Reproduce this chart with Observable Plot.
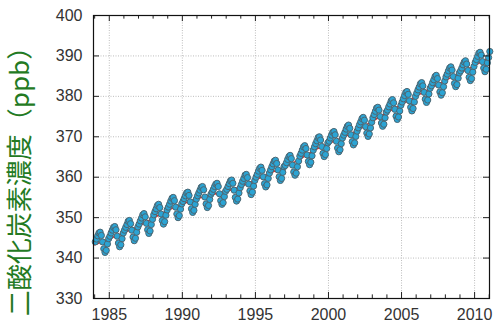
<!DOCTYPE html>
<html><head><meta charset="utf-8">
<script src="https://cdn.jsdelivr.net/npm/d3@7"></script>
<script src="https://cdn.jsdelivr.net/npm/@observablehq/plot@0.6"></script>
<style>html,body{margin:0;padding:0;background:#fff}svg{display:block}</style>
</head><body><div id="chart"></div>
<script>
// Monthly CO2 values (Jan..Dec)
const years = [1984,1985,1986,1987,1988,1989,1990,1991,1992,1993,1994,1995,1996,1997,1998,1999,2000,2001,2002,2003,2004,2005,2006,2007,2008,2009,2010];
const co2_1984 = [344.0,344.7,345.5,346.2,346.4,345.6,344.0,342.3,341.4,341.9,343.5,344.8];
const co2_1985 = [345.4,346.2,346.9,347.6,347.8,347.0,345.4,343.7,342.8,343.3,344.8,346.2];
const co2_1986 = [346.9,347.6,348.3,349.1,349.3,348.5,346.9,345.2,344.3,344.9,346.4,347.7];
const co2_1987 = [348.4,349.2,349.9,350.7,351.0,350.2,348.6,347.0,346.1,346.7,348.3,349.6];
const co2_1988 = [350.7,351.5,352.2,353.0,353.3,352.5,350.9,349.3,348.4,349.0,350.6,351.9];
const co2_1989 = [352.6,353.3,354.1,354.8,355.0,354.2,352.6,350.9,350.0,350.5,352.1,353.4];
const co2_1990 = [354.0,354.7,355.4,356.1,356.3,355.5,353.9,352.2,351.3,351.8,353.3,354.6];
const co2_1991 = [355.4,356.1,356.8,357.5,357.7,356.9,355.1,353.4,352.5,353.0,354.5,355.8];
const co2_1992 = [356.3,357.0,357.7,358.3,358.5,357.7,355.9,354.2,353.3,353.7,355.2,356.5];
const co2_1993 = [357.0,357.7,358.4,359.1,359.3,358.5,356.8,355.0,354.1,354.6,356.1,357.4];
const co2_1994 = [358.2,359.0,359.7,360.5,360.7,359.9,358.3,356.6,355.7,356.3,357.8,359.2];
const co2_1995 = [360.0,360.7,361.5,362.2,362.5,361.7,360.1,358.4,357.6,358.1,359.7,361.0];
const co2_1996 = [361.8,362.6,363.3,364.0,364.2,363.4,361.8,360.1,359.2,359.7,361.2,362.6];
const co2_1997 = [362.9,363.6,364.4,365.1,365.4,364.6,363.0,361.3,360.5,361.0,362.6,364.0];
const co2_1998 = [365.2,365.9,366.7,367.5,367.8,367.1,365.5,363.9,363.1,363.7,365.3,366.7];
const co2_1999 = [367.5,368.3,369.0,369.8,370.0,369.2,367.6,365.9,365.1,365.6,367.1,368.5];
const co2_2000 = [368.9,369.7,370.4,371.1,371.3,370.5,368.9,367.2,366.3,366.8,368.3,369.7];
const co2_2001 = [370.4,371.1,371.9,372.6,372.9,372.1,370.5,368.8,368.0,368.5,370.1,371.4];
const co2_2002 = [372.2,373.0,373.7,374.5,374.8,374.1,372.5,370.9,370.1,370.7,372.2,373.6];
const co2_2003 = [374.7,375.5,376.3,377.1,377.3,376.6,375.0,373.4,372.6,373.1,374.7,376.1];
const co2_2004 = [376.6,377.4,378.1,378.9,379.2,378.4,376.8,375.1,374.3,374.9,376.4,377.8];
const co2_2005 = [378.6,379.4,380.2,381.0,381.2,380.5,378.9,377.3,376.4,377.0,378.6,380.0];
const co2_2006 = [380.8,381.6,382.3,383.1,383.4,382.6,381.0,379.3,378.5,379.1,380.6,382.0];
const co2_2007 = [382.6,383.4,384.1,384.9,385.2,384.4,382.8,381.1,380.3,380.9,382.4,383.8];
const co2_2008 = [384.8,385.5,386.3,387.0,387.3,386.5,384.9,383.2,382.4,382.9,384.5,385.8];
const co2_2009 = [386.3,387.0,387.8,388.5,388.8,388.0,386.4,384.7,383.9,384.4,386.0,387.4];
const co2_2010 = [388.4,389.1,389.9,390.7,390.9,390.2,388.6,387.0,386.1,386.7,388.3,389.6];
const co2_2011 = [391.1]; // January 2011
const monthly = [co2_1984,co2_1985,co2_1986,co2_1987,co2_1988,co2_1989,co2_1990,co2_1991,co2_1992,co2_1993,co2_1994,co2_1995,co2_1996,co2_1997,co2_1998,co2_1999,co2_2000,co2_2001,co2_2002,co2_2003,co2_2004,co2_2005,co2_2006,co2_2007,co2_2008,co2_2009,co2_2010];

// Trend (red line), values at the start of each year
const trendYears  = [1984,1985,1986,1987,1988,1989,1990,1991,1992,1993,1994,1995,1996,1997,1998,1999,2000,2001,2002,2003,2004,2005,2006,2007,2008,2009,2010,2011];
const trendValues = [343.3,344.8,346.25,347.85,349.85,351.85,353.35,354.65,355.7,356.5,357.65,359.3,361.05,362.5,364.35,366.65,368.35,369.8,371.6,373.85,376.0,377.95,380.05,382.0,383.95,385.75,387.6,389.65];

const xMajor = [1985,1990,1995,2000,2005,2010];
const xMinor = [1984,1986,1987,1988,1989,1991,1992,1993,1994,1996,1997,1998,1999,2001,2002,2003,2004,2006,2007,2008,2009,2011];
const yTicks = [330,340,350,360,370,380,390,400];
const yGrid = [340,350,360,370,380,390];
const yTitle = "二酸化炭素濃度（ppb）";

const points = [];
years.forEach((yr, i) => monthly[i].forEach((v, m) => points.push({x: yr + (m + 0.5) / 12, y: v})));
co2_2011.forEach((v, m) => points.push({x: 2011 + (m + 0.5) / 12, y: v}));
const trend = trendYears.map((t, i) => ({x: t, y: trendValues[i]}));

const xDomain = [1983.92, 2011.02];
const yDomain = [330, 400];
const tx = 0.41, ty = 1.5, mty = 0.9; // tick lengths in data units

const chart = Plot.plot({
  width: 498, height: 325,
  marginLeft: 93, marginRight: 9, marginTop: 15, marginBottom: 27,
  x: {domain: xDomain},
  y: {domain: yDomain},
  style: {fontFamily: "'Liberation Sans', Arial, sans-serif", fontSize: "16px", color: "#333", background: "#fff"},
  marks: [
    Plot.gridY(yGrid, {stroke: "#bdbdbd", strokeOpacity: 1, strokeDasharray: "1,1.5"}),
    Plot.gridX(xMajor, {stroke: "#bdbdbd", strokeOpacity: 1, strokeDasharray: "1,1.5"}),
    Plot.line(trend, {x: "x", y: "y", stroke: "#e3261f", strokeWidth: 1.6}),
    Plot.dot(points, {x: "x", y: "y", r: 3.1, fill: "#2ba4d4", stroke: "#4b6672", strokeWidth: 1}),
    Plot.ruleY(yTicks, {x1: xDomain[0], x2: xDomain[0] + tx, stroke: "#222"}),
    Plot.ruleY(yTicks, {x1: xDomain[1] - tx, x2: xDomain[1], stroke: "#222"}),
    Plot.ruleX(xMajor, {y1: yDomain[0], y2: yDomain[0] + ty, stroke: "#222"}),
    Plot.ruleX(xMinor, {y1: yDomain[0], y2: yDomain[0] + mty, stroke: "#222"}),
    Plot.ruleX(xMajor, {y1: yDomain[1] - ty, y2: yDomain[1], stroke: "#222"}),
    Plot.ruleX(xMinor, {y1: yDomain[1] - mty, y2: yDomain[1], stroke: "#222"}),
    Plot.axisY(yTicks, {anchor: "left", tickSize: 0, tickPadding: 11, label: null, fontSize: 16, fill: "#333"}),
    Plot.axisX(xMajor, {anchor: "bottom", tickSize: 0, tickPadding: 10, label: null, fontSize: 16, fill: "#333", tickFormat: d => String(d)}),
    Plot.frame({stroke: "#111", strokeWidth: 1.2}),
    Plot.text([yTitle], {text: d => d, frameAnchor: "left", textAnchor: "middle", lineAnchor: "middle", rotate: -90, dx: -73, dy: 18, fontSize: 26, fill: "#237a23", fontFamily: "'Noto Sans CJK JP', sans-serif"})
  ]
});
document.getElementById("chart").appendChild(chart);
</script>
</body></html>
